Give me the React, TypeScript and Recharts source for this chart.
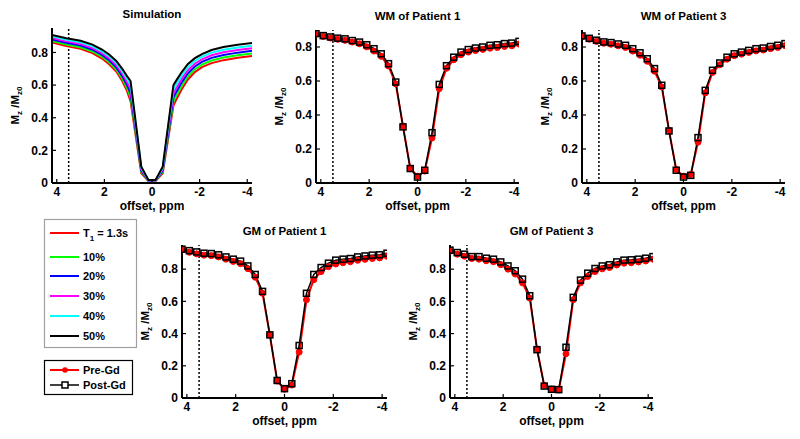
import React from "react";
import { LineChart, Line, XAxis, YAxis, ReferenceLine } from "recharts";

const FONT = "'Liberation Sans', Arial, sans-serif";

// frequency offsets (ppm) of the measured points
const offsets = [
  4.2, 3.9, 3.6, 3.3, 3.0, 2.7, 2.4, 2.1, 1.8, 1.5, 1.2, 0.9, 0.6, 0.3, 0,
  -0.3, -0.6, -0.9, -1.2, -1.5, -1.8, -2.1, -2.4, -2.7, -3.0, -3.3, -3.6, -3.9, -4.2,
];

const wm1Pre = [0.875, 0.862, 0.853, 0.845, 0.839, 0.829, 0.819, 0.801, 0.776, 0.745, 0.688, 0.583, 0.335, 0.088, 0.04, 0.07, 0.265, 0.555, 0.675, 0.725, 0.755, 0.77, 0.779, 0.786, 0.793, 0.797, 0.803, 0.807, 0.817];
const wm1Post = [0.879, 0.867, 0.859, 0.852, 0.848, 0.838, 0.829, 0.813, 0.79, 0.76, 0.702, 0.594, 0.33, 0.085, 0.035, 0.075, 0.296, 0.58, 0.69, 0.74, 0.77, 0.785, 0.794, 0.8, 0.81, 0.813, 0.82, 0.823, 0.833];

const wm3Pre = [0.862, 0.846, 0.833, 0.822, 0.816, 0.807, 0.797, 0.776, 0.752, 0.716, 0.658, 0.565, 0.31, 0.08, 0.04, 0.05, 0.24, 0.53, 0.65, 0.695, 0.728, 0.749, 0.758, 0.768, 0.777, 0.782, 0.79, 0.797, 0.808];
const wm3Post = [0.865, 0.851, 0.84, 0.83, 0.826, 0.818, 0.81, 0.79, 0.766, 0.731, 0.673, 0.575, 0.306, 0.075, 0.035, 0.045, 0.267, 0.545, 0.663, 0.706, 0.74, 0.76, 0.77, 0.78, 0.79, 0.794, 0.803, 0.81, 0.82];

const gm1Pre = [0.92, 0.905, 0.895, 0.887, 0.884, 0.876, 0.862, 0.848, 0.834, 0.803, 0.75, 0.65, 0.39, 0.105, 0.055, 0.08, 0.285, 0.61, 0.735, 0.785, 0.815, 0.832, 0.84, 0.846, 0.855, 0.861, 0.866, 0.87, 0.88];
const gm1Post = [0.924, 0.915, 0.907, 0.899, 0.897, 0.889, 0.876, 0.862, 0.85, 0.82, 0.767, 0.662, 0.392, 0.109, 0.058, 0.089, 0.326, 0.65, 0.767, 0.81, 0.837, 0.856, 0.862, 0.866, 0.876, 0.882, 0.887, 0.889, 0.899];

const gm3Pre = [0.912, 0.893, 0.88, 0.866, 0.862, 0.852, 0.846, 0.828, 0.8, 0.77, 0.715, 0.62, 0.305, 0.078, 0.055, 0.05, 0.275, 0.61, 0.715, 0.755, 0.785, 0.802, 0.81, 0.826, 0.837, 0.84, 0.845, 0.851, 0.862];
const gm3Post = [0.918, 0.903, 0.893, 0.878, 0.878, 0.868, 0.862, 0.845, 0.82, 0.79, 0.738, 0.635, 0.3, 0.074, 0.054, 0.052, 0.315, 0.625, 0.732, 0.775, 0.804, 0.82, 0.827, 0.845, 0.856, 0.858, 0.862, 0.868, 0.878];

// simulation curves, T1 increase 0..50%
const simOffsets = [4.2, 3.6, 3.0, 2.5, 2.1, 1.8, 1.5, 1.25, 1.05, 0.9, 0.45, 0.15, -0.15, -0.45, -0.9, -1.05, -1.25, -1.5, -1.8, -2.1, -2.5, -3.0, -3.6, -4.2];
const simRed = [0.861, 0.84, 0.822, 0.796, 0.763, 0.728, 0.683, 0.625, 0.565, 0.5, 0.06, 0.013, 0.013, 0.06, 0.475, 0.52, 0.575, 0.633, 0.68, 0.71, 0.735, 0.753, 0.767, 0.778];
const simGreen = [0.87, 0.849, 0.832, 0.806, 0.774, 0.74, 0.696, 0.64, 0.583, 0.525, 0.068, 0.014, 0.014, 0.068, 0.5, 0.543, 0.596, 0.652, 0.697, 0.726, 0.751, 0.769, 0.783, 0.794];
const simBlue = [0.88, 0.859, 0.842, 0.817, 0.785, 0.752, 0.709, 0.655, 0.601, 0.55, 0.076, 0.015, 0.015, 0.076, 0.525, 0.566, 0.617, 0.671, 0.714, 0.742, 0.767, 0.785, 0.799, 0.81];
const simMagenta = [0.889, 0.868, 0.852, 0.827, 0.796, 0.764, 0.722, 0.67, 0.619, 0.575, 0.084, 0.016, 0.016, 0.084, 0.55, 0.589, 0.638, 0.69, 0.731, 0.758, 0.783, 0.801, 0.815, 0.826];
const simCyan = [0.899, 0.878, 0.862, 0.838, 0.807, 0.776, 0.735, 0.685, 0.637, 0.6, 0.092, 0.017, 0.017, 0.092, 0.575, 0.612, 0.659, 0.709, 0.748, 0.774, 0.799, 0.817, 0.831, 0.842];
const simBlack = [0.908, 0.887, 0.872, 0.848, 0.818, 0.788, 0.748, 0.7, 0.655, 0.625, 0.1, 0.018, 0.018, 0.1, 0.6, 0.635, 0.68, 0.728, 0.765, 0.79, 0.815, 0.833, 0.847, 0.858];

const xTicks = [4, 2, 0, -2, -4];
const yTicks = [0, 0.2, 0.4, 0.6, 0.8];

const simSeries = [
  { key: "red", label: "T1 = 1.3s", color: "#ff0000", values: simRed },
  { key: "green", label: "10%", color: "#00ff00", values: simGreen },
  { key: "blue", label: "20%", color: "#0000ff", values: simBlue },
  { key: "magenta", label: "30%", color: "#ff00ff", values: simMagenta },
  { key: "cyan", label: "40%", color: "#00ffff", values: simCyan },
  { key: "black", label: "50%", color: "#000000", values: simBlack },
];

const simData = simOffsets.map((x, i) => {
  const row: Record<string, number> = { x };
  simSeries.forEach((s) => (row[s.key] = s.values[i]));
  return row;
});

const patientRows = (pre: number[], post: number[]) =>
  offsets.map((x, i) => ({ x, pre: pre[i], post: post[i] }));

const tickStyle = { fontSize: 12, fontWeight: "bold", fill: "#000", fontFamily: FONT };
const axisLine = { stroke: "#000", strokeWidth: 2 };
const tickLine = { stroke: "#000", strokeWidth: 1.2 };

type Box = [number, number, number, number];

function Panel({ box, yMax, data, children }: { box: Box; yMax: number; data: any[]; children: React.ReactNode }) {
  const [x0, y0, x1, y1] = box;
  return (
    <div style={{ position: "absolute", left: x0 - 50, top: y0 - 30 }}>
      <LineChart width={x1 - x0 + 60} height={y1 - y0 + 60} data={data} margin={{ top: 30, right: 10, bottom: 0, left: 0 }}>
        <XAxis dataKey="x" type="number" domain={[-4.2, 4.2]} reversed allowDataOverflow ticks={xTicks} interval={0}
          height={30} tickSize={-4} tickMargin={8} axisLine={axisLine} tickLine={tickLine} tick={tickStyle} />
        <XAxis xAxisId="top" orientation="top" dataKey="x" type="number" domain={[-4.2, 4.2]} reversed allowDataOverflow
          ticks={xTicks} interval={0} height={0} tickSize={-4} axisLine={axisLine} tickLine={tickLine} tick={false} />
        <YAxis type="number" domain={[0, yMax]} allowDataOverflow ticks={yTicks} interval={0} width={50}
          tickSize={-4} tickMargin={8} axisLine={axisLine} tickLine={tickLine} tick={tickStyle} />
        <YAxis yAxisId="right" orientation="right" type="number" domain={[0, yMax]} allowDataOverflow ticks={yTicks}
          interval={0} width={0} tickSize={-4} axisLine={axisLine} tickLine={tickLine} tick={false} />
        <ReferenceLine x={3.5} stroke="#000" strokeWidth={1.5} strokeDasharray="2 2" />
        {children}
      </LineChart>
    </div>
  );
}

const RedDot = (p: any) => <circle key={`r${p.index}`} cx={p.cx} cy={p.cy} r={3} fill="#ff0000" stroke="#ff0000" strokeWidth={1} />;
const BlackSquare = (p: any) => (
  <rect key={`b${p.index}`} x={p.cx - 3} y={p.cy - 3} width={6} height={6} fill="none" stroke="#000" strokeWidth={1.5} />
);

function PatientPanel({ box, yMax, pre, post }: { box: Box; yMax: number; pre: number[]; post: number[] }) {
  return (
    <Panel box={box} yMax={yMax} data={patientRows(pre, post)}>
      <Line dataKey="pre" type="linear" stroke="#ff0000" strokeWidth={2} dot={RedDot} isAnimationActive={false} />
      <Line dataKey="post" type="linear" stroke="#000" strokeWidth={1.5} dot={BlackSquare} isAnimationActive={false} />
    </Panel>
  );
}

const boxes: Record<string, Box> = {
  sim: [52, 28, 252, 183],
  wm1: [316, 30, 519, 183],
  wm3: [582, 30, 785, 183],
  gm1: [182, 245, 387, 398],
  gm3: [450, 245, 653, 398],
};

const titles: [string, string][] = [
  ["sim", "Simulation"],
  ["wm1", "WM of Patient 1"],
  ["wm3", "WM of Patient 3"],
  ["gm1", "GM of Patient 1"],
  ["gm3", "GM of Patient 3"],
];

function Overlay() {
  const txt = { fontFamily: FONT, fontWeight: "bold" as const, fill: "#000" };
  return (
    <svg width={800} height={439} style={{ position: "absolute", left: 0, top: 0, pointerEvents: "none" }}>
      {titles.map(([k, t]) => {
        const [x0, y0, x1, y1] = boxes[k];
        const cx = (x0 + x1) / 2;
        const cy = (y0 + y1) / 2;
        return (
          <g key={k}>
            <text x={cx} y={y0 - 10} textAnchor="middle" fontSize={11.5} {...txt}>{t}</text>
            <text x={cx} y={y1 + 27} textAnchor="middle" fontSize={12} {...txt}>offset, ppm</text>
            <text transform={`translate(${x0 - 33},${cy}) rotate(-90)`} textAnchor="middle" fontSize={11.5} {...txt}>
              M<tspan dy={3} fontSize={8}>z</tspan>
              <tspan dy={-3}> /M</tspan>
              <tspan dy={3} fontSize={8}>z0</tspan>
            </text>
          </g>
        );
      })}
      {/* T1 legend */}
      <rect x={44.5} y={219.5} width={92} height={128} fill="#fff" stroke="#a0a0a0" strokeWidth={1.2} />
      {simSeries.map((s, i) => {
        const ys = [233, 257, 276, 296, 316, 336];
        const y = ys[i];
        return (
          <g key={s.key}>
            <line x1={50} x2={79} y1={y} y2={y} stroke={s.color} strokeWidth={2} />
            {i === 0 ? (
              <text x={83} y={y + 4} fontSize={11} {...txt}>
                T<tspan dy={4} fontSize={8}>1</tspan>
                <tspan dy={-4}> = 1.3s</tspan>
              </text>
            ) : (
              <text x={83} y={y + 4} fontSize={11} {...txt}>{s.label}</text>
            )}
          </g>
        );
      })}
      {/* Pre/Post legend */}
      <rect x={44.5} y={360.5} width={88} height={34} fill="#fff" stroke="#000" strokeWidth={1.2} />
      <line x1={50} x2={79} y1={370} y2={370} stroke="#ff0000" strokeWidth={2} />
      <circle cx={65} cy={370} r={2.8} fill="#ff0000" />
      <text x={83} y={374} fontSize={11} {...txt}>Pre-Gd</text>
      <line x1={50} x2={79} y1={385} y2={385} stroke="#000" strokeWidth={1.5} />
      <rect x={62} y={382} width={6} height={6} fill="#fff" stroke="#000" strokeWidth={1.5} />
      <text x={83} y={389} fontSize={11} {...txt}>Post-Gd</text>
    </svg>
  );
}

export default function App() {
  return (
    <div style={{ position: "absolute", left: 0, top: 0, width: 800, height: 439, background: "#fff", overflow: "hidden" }}>
      <Panel box={boxes.sim} yMax={0.95} data={simData}>
        {simSeries.map((s) => (
          <Line key={s.key} dataKey={s.key} type="linear" stroke={s.color} strokeWidth={2} dot={false} isAnimationActive={false} />
        ))}
      </Panel>
      <PatientPanel box={boxes.wm1} yMax={0.9} pre={wm1Pre} post={wm1Post} />
      <PatientPanel box={boxes.wm3} yMax={0.9} pre={wm3Pre} post={wm3Post} />
      <PatientPanel box={boxes.gm1} yMax={0.95} pre={gm1Pre} post={gm1Post} />
      <PatientPanel box={boxes.gm3} yMax={0.95} pre={gm3Pre} post={gm3Post} />
      <Overlay />
    </div>
  );
}
